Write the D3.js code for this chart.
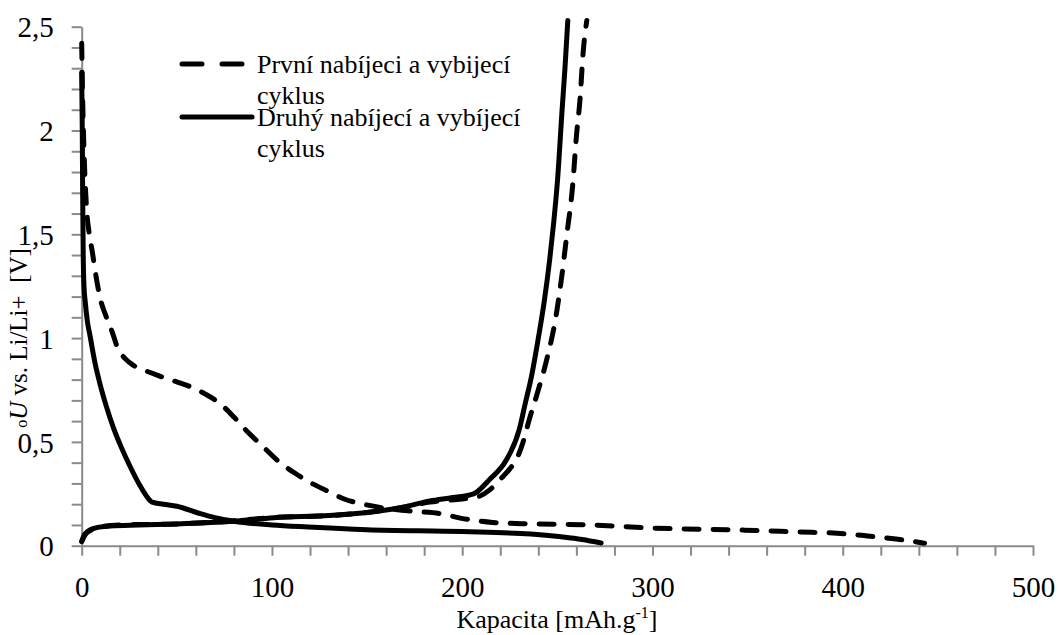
<!DOCTYPE html>
<html>
<head>
<meta charset="utf-8">
<script src="https://cdn.jsdelivr.net/npm/d3@7"></script>
<style>
  body { margin: 0; background: #fff; }
  svg { display: block; }
  svg text { font-family: "Liberation Serif", Tinos, "Times New Roman", Times, serif !important; fill: #000; }
</style>
</head>
<body>
<svg id="chart" width="1061" height="635"></svg>
<script>
// capacity [mAh/g], voltage [V]
var cycle1Discharge = [[0,2.42],[0.4,2.2],[0.9,2.0],[1.6,1.8],[2.6,1.62],[4,1.5],[5.5,1.42],[7.5,1.3],[9.5,1.2],
    [13,1.1],[16,1.03],[19,0.95],[23,0.9],[27,0.87],[33,0.845],[40,0.82],[48,0.795],[56,0.77],[65,0.73],
    [72,0.69],[80,0.62],[87,0.55],[95,0.48],[103,0.41],[112,0.35],[121,0.3],[130,0.26],[138,0.225],
    [148,0.2],[160,0.18],[175,0.165],[188,0.155],[199,0.133],[216,0.112],[236,0.105],[267,0.1],
    [300,0.085],[348,0.075],[377,0.066],[397,0.06],[413,0.047],[428,0.032],[443,0.012]];
var cycle1Charge = [[0,0.02],[2,0.055],[5,0.075],[10,0.09],[20,0.1],[50,0.105],[80,0.12],[100,0.135],
    [130,0.145],[150,0.16],[166,0.18],[183,0.21],[200,0.225],[208,0.235],[214.6,0.27],[220,0.32],
    [225,0.37],[228.7,0.42],[232,0.5],[235,0.6],[239,0.72],[244.5,0.9],[249,1.09],[252.5,1.31],
    [255,1.5],[258,1.73],[260,1.97],[262,2.16],[263.5,2.37],[265.5,2.53]];
var cycle2Discharge = [[0,2.28],[0.3,2.0],[0.5,1.7],[0.8,1.4],[1.2,1.25],[1.8,1.18],[3,1.08],[4.4,1.01],
    [7,0.88],[9.6,0.78],[13,0.67],[16.6,0.57],[21,0.47],[25,0.39],[30.6,0.29],[34,0.24],[37,0.21],
    [43,0.2],[50,0.19],[62,0.155],[70,0.135],[80,0.118],[100,0.1],[119,0.09],[150,0.077],[200,0.068],
    [236,0.056],[253,0.042],[263,0.03],[273,0.013]];
var cycle2Charge = [[0,0.02],[1,0.045],[3,0.068],[7,0.085],[15,0.095],[30,0.1],[50,0.105],[80,0.118],
    [101,0.135],[130,0.145],[150,0.16],[166,0.18],[183,0.215],[195,0.232],[206,0.25],[214.5,0.32],
    [223,0.41],[230,0.56],[233,0.68],[236.5,0.82],[240,1.0],[243,1.17],[246,1.38],[248,1.55],
    [250,1.75],[252.5,2.1],[254,2.3],[255.5,2.53]];

var xTicks = d3.range(0, 501, 20);
var xLabels = [0, 100, 200, 300, 400, 500];
var yTicks = d3.range(0, 26).map(function (i) { return i / 10; });
var yLabels = [0, 0.5, 1, 1.5, 2, 2.5];
var legendNames = [["První nabíjeci a vybijecí", "cyklus"], ["Druhý nabíjecí a vybíjecí", "cyklus"]];

var svg = d3.select('#chart');
var x = d3.scaleLinear().domain([0, 500]).range([81.7, 1033]);
var y = d3.scaleLinear().domain([0, 2.5]).range([545.7, 26.7]);
var AXIS = '#8a8a8a';

/* axes */
var xAxis = svg.append('g')
    .attr('transform', 'translate(0,' + y(0) + ')')
    .call(d3.axisBottom(x).tickValues(xTicks).tickSize(10).tickSizeOuter(0)
        .tickFormat(function (d) { return xLabels.indexOf(d) >= 0 ? d : ''; }));
var yAxis = svg.append('g')
    .attr('transform', 'translate(' + x(0) + ',0)')
    .call(d3.axisLeft(y).tickValues(yTicks).tickSize(10).tickSizeOuter(0)
        .tickFormat(function (d) {
            return yLabels.some(function (v) { return Math.abs(v - d) < 1e-9; }) ? String(+d.toFixed(1)).replace('.', ',') : '';
        }));

[xAxis, yAxis].forEach(function (a) {
    a.attr('font-family', null);
    a.select('.domain').attr('stroke', AXIS).attr('stroke-width', 2);
    a.selectAll('.tick line').attr('stroke', AXIS).attr('stroke-width', 2);
    a.selectAll('.tick text').style('font-size', '29px').attr('fill', '#000');
});
xAxis.selectAll('.tick text').attr('y', 51).attr('dy', 0);
yAxis.selectAll('.tick text').attr('x', -28).attr('dy', '0.35em');

/* curves */
var line = d3.line()
    .x(function (d) { return x(d[0]); })
    .y(function (d) { return y(d[1]); })
    .curve(d3.curveMonotoneX);

function drawCurve(data, dashed) {
    svg.append('path')
        .datum(data)
        .attr('d', line)
        .attr('fill', 'none')
        .attr('stroke', '#000')
        .attr('stroke-width', 5)
        .attr('stroke-linecap', 'round')
        .attr('stroke-linejoin', 'round')
        .attr('stroke-dasharray', dashed ? '15,14' : null);
}
drawCurve(cycle2Discharge, false);
drawCurve(cycle2Charge, false);
drawCurve(cycle1Discharge, true);
drawCurve(cycle1Charge, true);

/* legend */
var legend = svg.append('g');
legendNames.forEach(function (lines, i) {
    var ly = i === 0 ? 64 : 117;
    legend.append('line')
        .attr('x1', 182).attr('x2', i === 0 ? 245 : 252)
        .attr('y1', ly).attr('y2', ly)
        .attr('stroke', '#000').attr('stroke-width', 5)
        .attr('stroke-linecap', 'round')
        .attr('stroke-dasharray', i === 0 ? '20,20' : null);
    lines.forEach(function (t, j) {
        legend.append('text')
            .attr('x', 257)
            .attr('y', ly + 9 + j * 31)
            .style('font-size', '26px')
            .text(t);
    });
});

/* axis titles */
var xt = svg.append('text')
    .attr('x', 557).attr('y', 628)
    .attr('text-anchor', 'middle')
    .style('font-size', '26px');
xt.append('tspan').text('Kapacita [mAh.g');
xt.append('tspan').attr('dy', -10).style('font-size', '16px').text('-1');
xt.append('tspan').attr('dy', 10).text(']');

var yt = svg.append('text')
    .attr('transform', 'translate(27,338) rotate(-90)')
    .attr('text-anchor', 'middle')
    .style('font-size', '25px')
    .style('white-space', 'pre');
yt.append('tspan').style('font-size', '16px').text('o');
yt.append('tspan').style('font-style', 'italic').text('U');
yt.append('tspan').text(' vs. Li/Li+  [V]');
</script>
</body>
</html>
